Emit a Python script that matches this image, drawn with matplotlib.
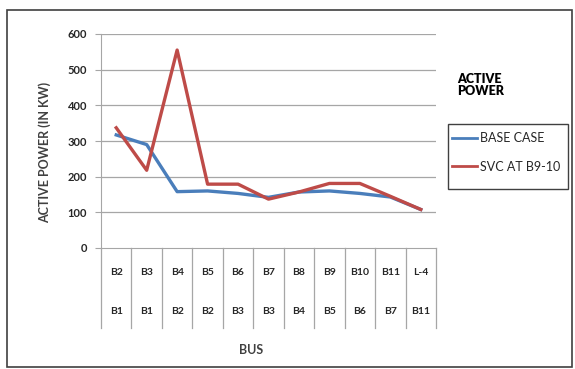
import matplotlib.pyplot as plt
from matplotlib.patches import Rectangle
from matplotlib.lines import Line2D

plt.rcParams['font.family'] = ['Lato', 'DejaVu Sans']

# bus pairs (sending / receiving) and active power per line
bus_to = ['B2', 'B3', 'B4', 'B5', 'B6', 'B7', 'B8', 'B9', 'B10', 'B11', 'L-4']
bus_from = ['B1', 'B1', 'B2', 'B2', 'B3', 'B3', 'B4', 'B5', 'B6', 'B7', 'B11']
base_case = [317, 290, 158, 160, 153, 142, 157, 160, 153, 143, 108]
svc_b9_10 = [337, 218, 555, 179, 179, 137, 157, 181, 181, 145, 108]
yticks = [0, 100, 200, 300, 400, 500, 600]

blue = '#4A7EBB'
red = '#BE4B48'
grid_c = '#A6A6A6'

fig = plt.figure(figsize=(5.75, 3.69), dpi=100)
# outer chart border
fig.patches.append(Rectangle((7 / 575, 1 - 367 / 369), 565 / 575, 357 / 369,
                             transform=fig.transFigure, fill=False,
                             edgecolor='#404040', linewidth=1.2))

ax = fig.add_axes([101 / 575, 1 - 248 / 369, 335 / 575, 214 / 369])
x = list(range(len(bus_to)))
ax.plot(x, base_case, color=blue, lw=2.4, label='BASE CASE', solid_joinstyle='round')
ax.plot(x, svc_b9_10, color=red, lw=2.4, label='SVC AT B9-10', solid_joinstyle='round')

ax.set_xlim(-0.5, len(bus_to) - 0.5)
ax.set_ylim(0, 600)
ax.set_yticks(yticks)
ax.set_yticklabels([str(v) for v in yticks], fontsize=8, fontweight='bold', color='#262626')
ax.tick_params(axis='y', length=4, color=grid_c, pad=6)
ax.set_xticks([])
for v in yticks[1:]:
    ax.axhline(v, color=grid_c, lw=0.9, zorder=0)
for s in ['top', 'right']:
    ax.spines[s].set_visible(False)
ax.spines['left'].set_color(grid_c)
ax.spines['bottom'].set_color(grid_c)

# category table under the axis
trans = ax.get_xaxis_transform()
for b in [i - 0.5 for i in range(len(bus_to) + 1)]:
    ax.plot([b, b], [0, -0.374], color=grid_c, lw=0.9, transform=trans, clip_on=False)
for i in x:
    ax.text(i, -0.115, bus_to[i], transform=trans, ha='center', va='center',
            fontsize=7.5, fontweight='bold', color='#262626')
    ax.text(i, -0.297, bus_from[i], transform=trans, ha='center', va='center',
            fontsize=7.5, fontweight='bold', color='#262626')

fig.text(45 / 575, 1 - 152 / 369, 'ACTIVE POWER (IN KW)', rotation=90, ha='center',
         va='center', fontsize=9, fontweight='bold', color='#404040')
fig.text(251 / 575, 1 - 350 / 369, 'BUS', ha='center', va='center',
         fontsize=9, fontweight='bold', color='#404040')

fig.text(457 / 575, 1 - 85 / 369, 'ACTIVE\nPOWER', ha='left', va='center',
         fontsize=9, fontweight='heavy', color='black', linespacing=1.0)

# legend box drawn separately so it can keep the empty space under the entries
fig.patches.append(Rectangle((448 / 575, 1 - 189 / 369), 120 / 575, 65 / 369,
                             transform=fig.transFigure, fill=False,
                             edgecolor='#404040', linewidth=1.0))
handles = [Line2D([], [], color=blue, lw=2), Line2D([], [], color=red, lw=2)]
leg = fig.legend(handles, ['BASE CASE', 'SVC AT B9-10'], loc='upper left',
                 bbox_to_anchor=(452 / 575, 1 - 132 / 369), fontsize=9,
                 frameon=False, handlelength=2.0, handletextpad=0.2,
                 borderpad=0, labelspacing=1.35, borderaxespad=0)
for t in leg.get_texts():
    t.set_color('#262626')

fig.savefig('out.png', dpi=100)
